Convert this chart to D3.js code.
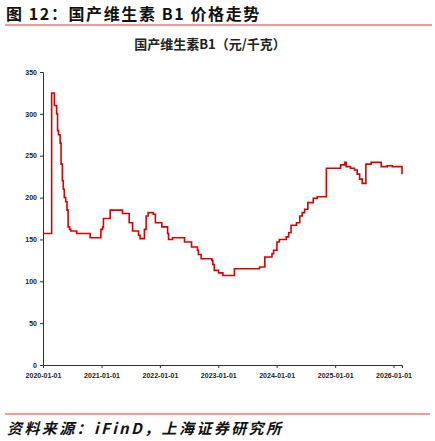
<!DOCTYPE html>
<html>
<head>
<meta charset="utf-8">
<script src="https://cdn.jsdelivr.net/npm/d3@7"></script>
<style>
body { margin: 0; background: #fff; }
svg text { font-family: "Noto Sans CJK SC", "Liberation Sans", sans-serif; }
</style>
</head>
<body>
<svg id="chart" width="435" height="441"></svg>
<script>
// step dates and prices (元/千克)
var dates = ["2020-01-01","2020-02-14","2020-02-24","2020-03-12","2020-03-26","2020-04-01","2020-04-07","2020-04-17",
    "2020-04-23","2020-05-01","2020-05-07","2020-05-13","2020-05-22","2020-05-30","2020-06-06","2020-06-15","2020-06-23",
    "2020-07-14","2020-07-30","2020-10-22","2020-12-28","2021-01-08","2021-01-13","2021-02-24","2021-05-12","2021-06-23",
    "2021-07-14","2021-08-20","2021-08-30","2021-09-26","2021-10-07","2021-10-19","2021-11-21","2021-12-04","2022-01-13",
    "2022-02-18","2022-02-24","2022-03-21","2022-06-04","2022-07-18","2022-08-24","2022-08-30","2022-09-16","2022-11-22",
    "2022-11-28","2022-12-07","2023-01-03","2023-01-30","2023-04-12","2023-09-16","2023-10-19","2023-12-03","2023-12-13",
    "2024-01-03","2024-01-18","2024-03-01","2024-03-16","2024-03-31","2024-05-04","2024-05-25","2024-06-09","2024-06-24",
    "2024-07-14","2024-08-17","2024-09-11","2024-11-07","2025-02-04","2025-03-03","2025-03-11","2025-04-07","2025-05-02",
    "2025-05-19","2025-06-03","2025-06-19","2025-07-12","2025-08-14","2025-10-16","2025-11-23","2025-12-24","2026-02-20",
    "2026-02-23"];
var prices = [157,157,325,310,300,280,275,265,
    240,220,210,200,195,185,165,162,160,
    160,157,152,162,165,175,185,181,170,
    160,155,151,162,178,182,180,170,165,
    157,150,152,147,141,137,132,127,125,
    120,113,110,107,115,117,129,133,137,
    147,150,153,158,167,170,178,182,186,
    194,199,201,235,239,242,237,235,233,
    228,222,217,240,242,237,238,237,237,
    228];
var yTicks = [0, 50, 100, 150, 200, 250, 300, 350];
var xTicks = ["2020-01-01","2021-01-01","2022-01-01","2023-01-01","2024-01-01","2025-01-01","2026-01-01"];

var parse = d3.timeParse("%Y-%m-%d");
var data = dates.map(function (d, i) { return { date: parse(d), value: prices[i] }; });

var svg = d3.select("#chart");

// heading
svg.append("text").attr("x", 6).attr("y", 20)
    .attr("font-size", 16).attr("font-weight", "bold").attr("fill", "#111")
    .attr("letter-spacing", 1.6)
    .text("图 12：国产维生素 B1 价格走势");
svg.append("line").attr("x1", 5).attr("x2", 432).attr("y1", 25).attr("y2", 25)
    .attr("stroke", "#e33").attr("stroke-width", 1);

svg.append("text").attr("x", 210).attr("y", 49).attr("text-anchor", "middle")
    .attr("font-size", 13).attr("font-weight", "bold").attr("fill", "#222")
    .text("国产维生素B1（元/千克）");

var x = d3.scaleTime().domain([parse("2020-01-01"), parse("2026-02-23")]).range([43, 402]);
var y = d3.scaleLinear().domain([0, 350]).range([365, 72]);

var xAxis = svg.append("g").attr("transform", "translate(0,365)")
    .call(d3.axisBottom(x).tickValues(xTicks.map(parse)).tickFormat(d3.timeFormat("%Y-%m-%d")).tickSizeOuter(0).tickSize(3));
xAxis.selectAll("text").attr("font-size", 7).attr("font-weight", "bold").attr("fill", "#222").attr("dy", "1.0em")
    .style("font-family", "Liberation Sans");

var yAxis = svg.append("g").attr("transform", "translate(43,0)")
    .call(d3.axisLeft(y).tickValues(yTicks).tickSizeOuter(0).tickSize(3));
yAxis.selectAll("text").attr("font-size", 7).attr("font-weight", "bold").attr("fill", "#222")
    .style("font-family", "Liberation Sans");
svg.selectAll(".domain, .tick line").attr("stroke", "#333");

var line = d3.line()
    .x(function (d) { return x(d.date); })
    .y(function (d) { return y(d.value); })
    .curve(d3.curveStepAfter);

svg.append("path").datum(data).attr("d", line)
    .attr("fill", "none").attr("stroke", "#d90000").attr("stroke-width", 1.6);

// footer
svg.append("line").attr("x1", 5).attr("x2", 430).attr("y1", 414).attr("y2", 414)
    .attr("stroke", "#e33").attr("stroke-width", 1);
svg.append("text").attr("x", 7).attr("y", 434)
    .attr("font-size", 15).attr("font-style", "italic").attr("font-weight", "bold").attr("fill", "#111")
    .attr("letter-spacing", 2.4)
    .text("资料来源：iFinD，上海证券研究所");
</script>
</body>
</html>
